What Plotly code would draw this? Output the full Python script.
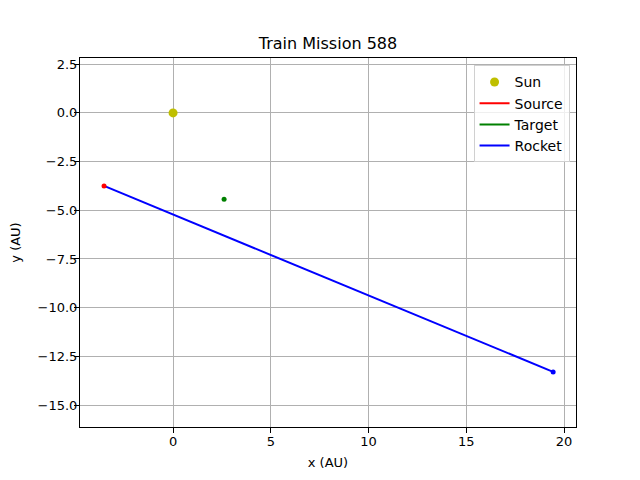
import plotly.graph_objects as go

# positions in AU
sun_x = [0.0]
sun_y = [0.0]
source_x = [-3.58, -3.53]
source_y = [-3.71, -3.75]
target_x = [2.57, 2.61]
target_y = [-4.46, -4.43]
rocket_x = [-3.53, 19.44]
rocket_y = [-3.75, -13.30]

x_ticks = [0, 5, 10, 15, 20]
y_ticks = [2.5, 0.0, -2.5, -5.0, -7.5, -10.0, -12.5, -15.0]
y_labels = ["2.5", "0.0", "\u22122.5", "\u22125.0", "\u22127.5", "\u221210.0", "\u221212.5", "\u221215.0"]

fig = go.Figure()
fig.add_trace(go.Scatter(x=sun_x, y=sun_y, mode="markers", name="Sun",
                         marker=dict(color="#bfbf00", size=9)))
fig.add_trace(go.Scatter(x=source_x, y=source_y, mode="lines", name="Source",
                         line=dict(color="red", width=2)))
fig.add_trace(go.Scatter(x=target_x, y=target_y, mode="lines", name="Target",
                         line=dict(color="green", width=2)))
fig.add_trace(go.Scatter(x=rocket_x, y=rocket_y, mode="lines", name="Rocket",
                         line=dict(color="blue", width=2)))
# end-point dots
fig.add_trace(go.Scatter(x=source_x[-1:], y=source_y[-1:], mode="markers", showlegend=False,
                         marker=dict(color="red", size=5)))
fig.add_trace(go.Scatter(x=target_x[-1:], y=target_y[-1:], mode="markers", showlegend=False,
                         marker=dict(color="green", size=5)))
fig.add_trace(go.Scatter(x=rocket_x[-1:], y=rocket_y[-1:], mode="markers", showlegend=False,
                         marker=dict(color="blue", size=5)))

axis_style = dict(showgrid=True, gridcolor="#b0b0b0", gridwidth=1, zeroline=False,
                  showline=True, linecolor="black", linewidth=1, mirror=True,
                  ticks="outside", ticklen=5, tickcolor="black", automargin=False,
                  tickfont=dict(size=13, color="black"))

# the page body adds an 8px offset, so margins are shifted to compensate
fig.update_layout(
    width=640, height=480,
    margin=dict(l=72, r=72, t=50, b=61),
    paper_bgcolor="white", plot_bgcolor="white",
    font=dict(family="DejaVu Sans", color="black"),
    title=dict(text="Train Mission 588", x=0.5, xanchor="center",
               y=0.927, yanchor="middle", font=dict(size=16)),
    xaxis=dict(range=[-4.76, 20.61], tickvals=x_ticks, ticklabelstandoff=-3,
               title=dict(text="x (AU)", font=dict(size=13), standoff=10), **axis_style),
    yaxis=dict(range=[-16.13, 2.82], tickvals=y_ticks, ticktext=y_labels, ticklabelstandoff=-6,
               title=dict(text="y (AU)", font=dict(size=13), standoff=14), **axis_style),
    legend=dict(x=0.987, y=0.98, xanchor="right", yanchor="top",
                bgcolor="rgba(255,255,255,0.8)", bordercolor="#d0d0d0", borderwidth=1,
                font=dict(size=14), tracegroupgap=0),
    showlegend=True,
)

fig.write_html("out.html")
